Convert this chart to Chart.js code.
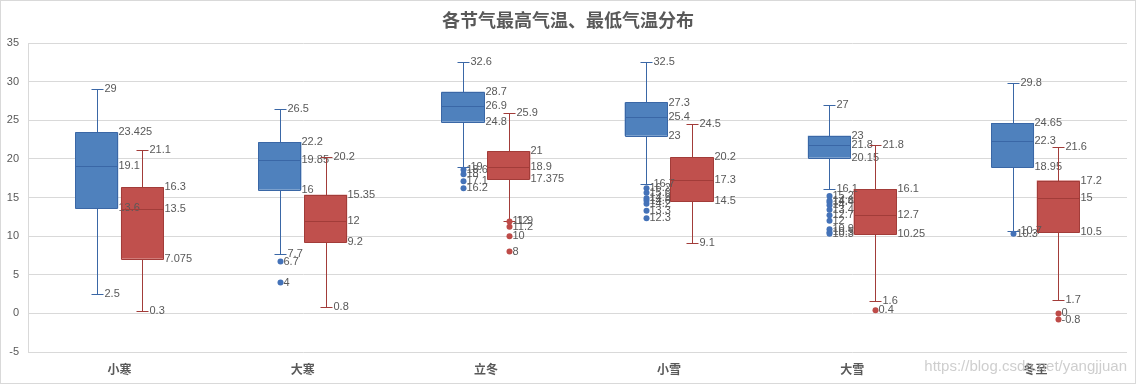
<!DOCTYPE html>
<html><head><meta charset="utf-8">
<script src="https://cdn.jsdelivr.net/npm/chart.js@4/dist/chart.umd.min.js"></script>
<style>html,body{margin:0;padding:0;background:#fff;} #wrap{width:1136px;height:384px;position:relative;}</style>
</head><body><div id="wrap"><canvas id="c"></canvas></div>
<script>
const titleText = '各节气最高气温、最低气温分布';
const categories = ['小寒', '大寒', '立冬', '小雪', '大雪', '冬至'];
const seriesNames = ['最高气温', '最低气温'];
const highMin = [2.5, 7.7, 19, 16.7, 16.1, 10.7];
const highQ1 = [13.6, 16, 24.8, 23, 20.15, 18.95];
const highMedian = [19.1, 19.85, 26.9, 25.4, 21.8, 22.3];
const highQ3 = [23.425, 22.2, 28.7, 27.3, 23, 24.65];
const highMax = [29, 26.5, 32.6, 32.5, 27, 29.8];
const highOutliers = [[], [6.7, 4], [18.6, 18, 17.1, 16.2], [16.2, 15.6, 14.9, 14.6, 14.2, 13.3, 12.3], [15.2, 14.6, 14.4, 14, 13.4, 12.7, 12, 10.9, 10.5, 10.3], [10.3]];
const lowMin = [0.3, 0.8, 12, 9.1, 1.6, 1.7];
const lowQ1 = [7.075, 9.2, 17.375, 14.5, 10.25, 10.5];
const lowMedian = [13.5, 12, 18.9, 17.3, 12.7, 15];
const lowQ3 = [16.3, 15.35, 21, 20.2, 16.1, 17.2];
const lowMax = [21.1, 20.2, 25.9, 24.5, 21.8, 21.6];
const lowOutliers = [[], [], [11.9, 11.2, 10, 8], [], [0.4], [0, -0.8]];
const yMin = -5, yMax = 35, yStep = 5;
const watermark = 'https://blog.csdn.net/yangjjuan';

const stats = [
  {min: highMin, q1: highQ1, med: highMedian, q3: highQ3, max: highMax, out: highOutliers, line: '#3A67A6', dot: '#4472B8'},
  {min: lowMin, q1: lowQ1, med: lowMedian, q3: lowQ3, max: lowMax, out: lowOutliers, line: '#A23C39', dot: '#BE4B48'}
];

const labelFont = '11px "Liberation Sans", Arial, sans-serif';
const labelColor = '#595959';

const boxPlugin = {
  id: 'boxExtras',
  beforeDraw(chart) {
    const ctx = chart.ctx;
    ctx.save();
    ctx.fillStyle = '#fff';
    ctx.fillRect(0, 0, chart.width, chart.height);
    ctx.restore();
  },
  afterDatasetsDraw(chart) {
    const ctx = chart.ctx, y = chart.scales.y;
    const px = v => Math.round(y.getPixelForValue(v)) + 0.5;
    chart.data.datasets.forEach((ds, di) => {
      const meta = chart.getDatasetMeta(di);
      const s = stats[di];
      meta.data.forEach((bar, i) => {
        const cx = Math.round(bar.x) + 0.5;
        const hw = bar.width / 2;
        const left = Math.round(bar.x - hw) + 0.5;
        const right = Math.round(bar.x + hw) - 0.5;
        const cap = 6;
        ctx.save();
        ctx.strokeStyle = s.line;
        ctx.lineWidth = 1;
        ctx.beginPath();
        // box outline
        ctx.rect(left, px(s.q3[i]), right - left, px(s.q1[i]) - px(s.q3[i]));
        // median
        ctx.moveTo(left, px(s.med[i])); ctx.lineTo(right, px(s.med[i]));
        // upper whisker
        ctx.moveTo(cx, px(s.q3[i])); ctx.lineTo(cx, px(s.max[i]));
        ctx.moveTo(cx - cap, px(s.max[i])); ctx.lineTo(cx + cap, px(s.max[i]));
        // lower whisker
        ctx.moveTo(cx, px(s.q1[i])); ctx.lineTo(cx, px(s.min[i]));
        ctx.moveTo(cx - cap, px(s.min[i])); ctx.lineTo(cx + cap, px(s.min[i]));
        ctx.stroke();
        // outliers
        ctx.fillStyle = s.dot;
        s.out[i].forEach(v => {
          ctx.beginPath();
          ctx.arc(cx, y.getPixelForValue(v), 3, 0, Math.PI * 2);
          ctx.fill();
        });
        // labels
        ctx.font = labelFont;
        ctx.fillStyle = labelColor;
        ctx.textBaseline = 'middle';
        ctx.textAlign = 'left';
        const rx = right + 1;
        ctx.fillText(String(s.q3[i]), rx, y.getPixelForValue(s.q3[i]));
        ctx.fillText(String(s.med[i]), rx, y.getPixelForValue(s.med[i]));
        ctx.fillText(String(s.q1[i]), rx, y.getPixelForValue(s.q1[i]));
        ctx.fillText(String(s.max[i]), cx + cap + 1, y.getPixelForValue(s.max[i]));
        ctx.fillText(String(s.min[i]), cx + cap + 1, y.getPixelForValue(s.min[i]));
        s.out[i].forEach(v => ctx.fillText(String(v), cx + 3, y.getPixelForValue(v)));
        ctx.restore();
      });
    });
  },
  afterDraw(chart) {
    const ctx = chart.ctx;
    ctx.save();
    ctx.font = 'bold 18px "Noto Sans CJK SC", sans-serif';
    ctx.fillStyle = '#595959';
    ctx.textAlign = 'center';
    ctx.textBaseline = 'middle';
    ctx.fillText(titleText, chart.width / 2, 20);
    ctx.font = '15px "Liberation Sans", Arial, sans-serif';
    ctx.fillStyle = 'rgba(190,190,190,0.75)';
    ctx.textAlign = 'right';
    ctx.fillText(watermark, 1127, 367);
    ctx.strokeStyle = '#d9d9d9';
    ctx.lineWidth = 1;
    ctx.strokeRect(0.5, 0.5, chart.width - 1, chart.height - 1);
    ctx.restore();
  }
};

new Chart(document.getElementById('c'), {
  type: 'bar',
  data: {
    labels: categories,
    datasets: [
      {label: seriesNames[0], data: highQ1.map((v, i) => [v, highQ3[i]]), backgroundColor: '#4F81BD', borderWidth: 0, categoryPercentage: 0.5, barPercentage: 0.94},
      {label: seriesNames[1], data: lowQ1.map((v, i) => [v, lowQ3[i]]), backgroundColor: '#C0504D', borderWidth: 0, categoryPercentage: 0.5, barPercentage: 0.94}
    ]
  },
  options: {
    responsive: true,
    maintainAspectRatio: false,
    animation: false,
    layout: {padding: {top: 43, right: 9, left: 0, bottom: 0}},
    plugins: {legend: {display: false}, tooltip: {enabled: false}, title: {display: false}},
    scales: {
      x: {
        grid: {display: false, drawTicks: false},
        border: {display: false},
        ticks: {color: '#595959', font: {family: '"Noto Sans CJK SC", sans-serif', size: 12, weight: 'bold'}, padding: 10},
        afterFit(scale) { scale.height = 32; }
      },
      y: {
        min: yMin, max: yMax,
        grid: {color: '#d9d9d9', drawTicks: false},
        border: {display: true, color: '#d9d9d9'},
        ticks: {stepSize: yStep, color: '#595959', font: {family: '"Liberation Sans", Arial, sans-serif', size: 11}, padding: 9},
        afterFit(scale) { scale.width = 28; }
      }
    }
  },
  plugins: [boxPlugin]
});
</script>
</body></html>
